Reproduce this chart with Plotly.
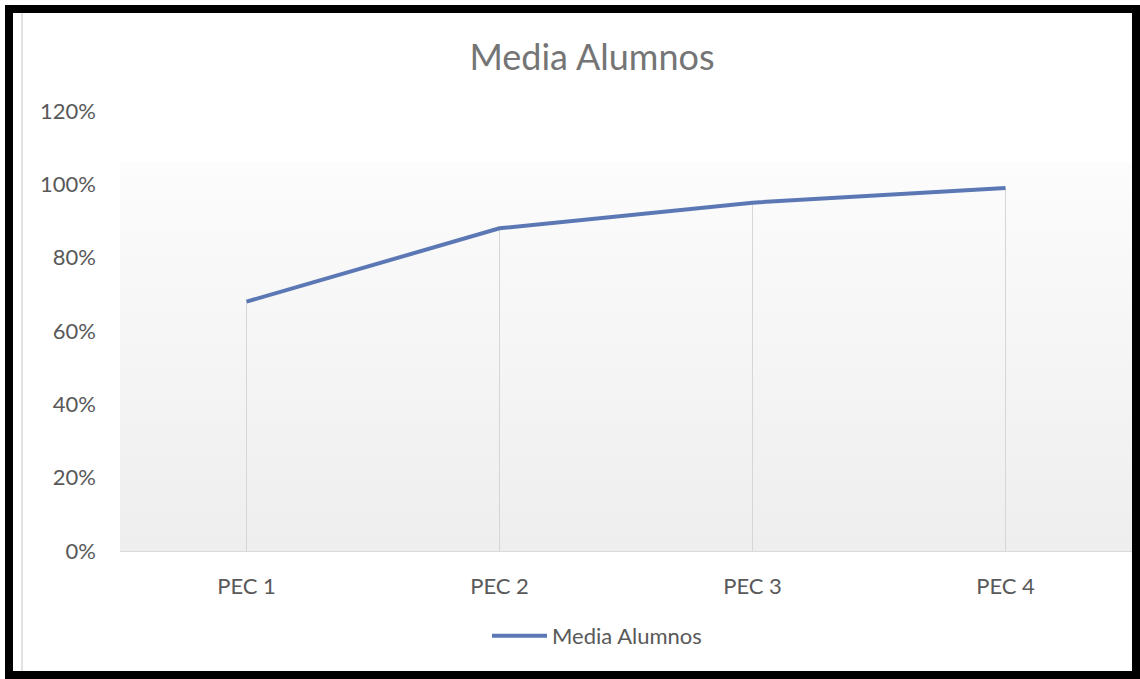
import base64
import plotly.graph_objects as go

categories = ["PEC 1", "PEC 2", "PEC 3", "PEC 4"]
media_alumnos = [0.68, 0.88, 0.95, 0.99]
y_tickvals = [0, 0.2, 0.4, 0.6, 0.8, 1.0, 1.2]
y_ticktext = ["0%", "20%", "40%", "60%", "80%", "100%", "120%"]

W, H = 1140, 679
ML, MR, MT, MB = 120, 8, 111, 128
PW, PH = W - ML - MR, H - MT - MB


def px_x(x):
    return (x - ML) / PW


def px_y(y):
    return (H - MB - y) / PH


svg = ('<svg xmlns="http://www.w3.org/2000/svg" width="100" height="100" preserveAspectRatio="none">'
       '<defs><linearGradient id="g" x1="0" y1="0" x2="0" y2="1">'
       '<stop offset="0" stop-color="#fcfcfc"/><stop offset="1" stop-color="#eeeeee"/>'
       '</linearGradient></defs><rect width="100" height="100" fill="url(#g)"/></svg>')
grad_src = "data:image/svg+xml;base64," + base64.b64encode(svg.encode()).decode()

fig = go.Figure()
fig.add_trace(go.Scatter(
    x=categories, y=media_alumnos, mode="lines", name="Media Alumnos",
    line=dict(color="#5B78B5", width=4),
    error_y=dict(type="data", symmetric=False, array=[0] * len(media_alumnos),
                 arrayminus=media_alumnos, color="#d6d6d6", thickness=1, width=0),
))

font_family = "Lato, 'Open Sans', sans-serif"
fig.update_layout(
    width=W, height=H,
    margin=dict(l=ML, r=MR, t=MT, b=MB, pad=0),
    paper_bgcolor="white", plot_bgcolor="white",
    title=dict(text="Media Alumnos", x=592 / W, xanchor="center",
               y=1 - 57 / H, yanchor="middle",
               font=dict(family=font_family, size=36, color="#757575")),
    font=dict(family=font_family, color="#595959"),
    showlegend=True,
    legend=dict(orientation="h", x=px_x(597), xanchor="center", y=px_y(636), yanchor="middle",
                font=dict(size=22, color="#595959"), bgcolor="rgba(0,0,0,0)", itemwidth=55),
    xaxis=dict(type="category", range=[-0.5, len(categories) - 0.5], showgrid=False,
               zeroline=False, showline=True,
               linecolor="#d9d9d9", linewidth=1, ticks="", ticklabelstandoff=16,
               tickfont=dict(size=22, color="#595959")),
    yaxis=dict(range=[0, 1.2], tickvals=y_tickvals, ticktext=y_ticktext, showgrid=False,
               zeroline=False, showline=False, ticks="", ticklabelstandoff=23,
               tickfont=dict(size=22, color="#595959")),
    images=[dict(source=grad_src, xref="paper", yref="paper", x=0, y=px_y(162),
                 sizex=1, sizey=px_y(162), sizing="stretch", layer="below",
                 xanchor="left", yanchor="top")],
    shapes=[
        dict(type="line", xref="paper", yref="paper", x0=px_x(22), x1=px_x(22),
             y0=px_y(13), y1=px_y(671), line=dict(color="#d9d9d9", width=1.5)),
        dict(type="rect", xref="paper", yref="paper", x0=px_x(9), x1=px_x(1136),
             y0=px_y(9), y1=px_y(675), line=dict(color="black", width=8)),
    ],
)

fig.write_html("out.html")
